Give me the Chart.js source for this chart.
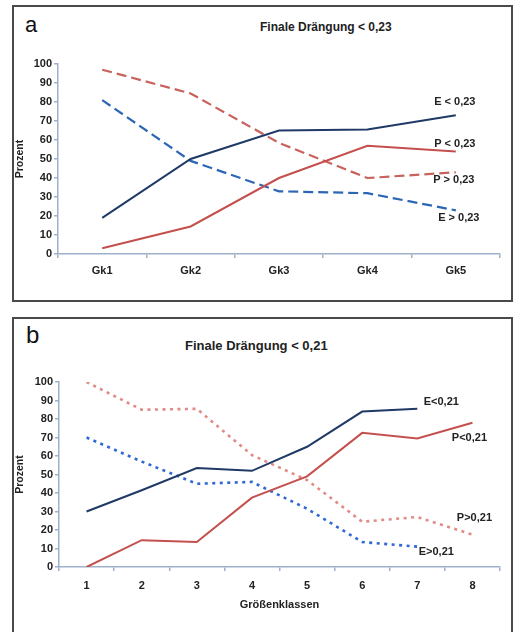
<!DOCTYPE html>
<html>
<head>
<meta charset="utf-8">
<script src="https://cdn.jsdelivr.net/npm/chart.js@4.4.0/dist/chart.umd.min.js"></script>
<style>
  body { margin: 0; background: #fff; width: 516px; height: 632px; position: relative; overflow: hidden;
         font-family: "Liberation Sans", Arial, sans-serif; }
  .panel { position: absolute; left: 12px; width: 497px; border: 2px solid #4a4a4a; background: #fff; }
  #panelA { top: 5px; height: 293px; }
  #panelB { top: 317px; height: 320px; }
  .panel canvas { position: absolute; left: 0; top: 0; }
  .letter { position: absolute; color: #111; line-height: 1; }
  .title { position: absolute; font-weight: bold; color: #222; line-height: 1; white-space: nowrap; }
</style>
</head>
<body>
<div class="panel" id="panelA">
  <div class="letter" style="left:11px; top:7px; font-size:22px;">a</div>
  <div class="title" style="left:246px; top:14px; font-size:12px;">Finale Drängung &lt; 0,23</div>
  <canvas id="chartA" width="497" height="293"></canvas>
</div>
<div class="panel" id="panelB">
  <div class="letter" style="left:12px; top:4px; font-size:24px;">b</div>
  <div class="title" style="left:171px; top:20px; font-size:13px;">Finale Drängung &lt; 0,21</div>
  <canvas id="chartB" width="497" height="313"></canvas>
</div>

<script>
// Panel a: Finale Drängung < 0,23
var catsA = ['Gk1', 'Gk2', 'Gk3', 'Gk4', 'Gk5'];
var eLowA  = [19, 50, 65, 65.5, 73];
var pLowA  = [3, 14.5, 40, 57, 54];
var pHighA = [97, 84.5, 58.5, 40, 43];
var eHighA = [81, 49, 33, 32, 23];

// Panel b: Finale Drängung < 0,21
var catsB = ['1', '2', '3', '4', '5', '6', '7', '8'];
var eLowB  = [30, 41.5, 53.5, 52, 65, 84, 85.5, null];
var pLowB  = [0, 14.5, 13.5, 37.5, 49, 72.5, 69.5, 78];
var pHighB = [100, 85, 85.5, 60.5, 47, 24.5, 27, 17.5];
var eHighB = [70, 57, 45, 46, 31.5, 13.5, 11, null];

var axisColor = '#9db2ca';
var fontFam = '"Liberation Sans", Arial, sans-serif';

// writes the series name next to the end of each line
var lineLabels = {
    id: 'lineLabels',
    afterDatasetsDraw: function (chart) {
        var ctx = chart.ctx;
        ctx.save();
        ctx.font = 'bold 11px ' + fontFam;
        ctx.fillStyle = '#222';
        ctx.textAlign = 'center';
        ctx.textBaseline = 'middle';
        chart.data.datasets.forEach(function (ds, i) {
            var pt = chart.getDatasetMeta(i).data[ds.endIndex];
            ctx.fillText(ds.label, pt.x + ds.labelDx, pt.y + ds.labelDy);
        });
        ctx.restore();
    }
};

function series(label, data, color, dash, width, endIndex, dx, dy) {
    return {
        label: label,
        data: data,
        borderColor: color,
        borderWidth: width,
        borderDash: dash,
        borderCapStyle: 'butt',
        pointRadius: 0,
        tension: 0,
        fill: false,
        endIndex: endIndex,
        labelDx: dx,
        labelDy: dy
    };
}

function setupChart(id, labels, datasets, lay) {
    return new Chart(document.getElementById(id), {
        type: 'line',
        data: { labels: labels, datasets: datasets },
        plugins: [lineLabels],
        options: {
            responsive: false,
            animation: false,
            layout: { padding: { left: 0, top: lay.top, right: lay.right, bottom: lay.bottom } },
            plugins: { legend: { display: false }, tooltip: { enabled: false } },
            scales: {
                x: {
                    offset: true,
                    grid: { offset: true, drawOnChartArea: false, drawTicks: true, tickLength: 4, color: axisColor, lineWidth: 1.5 },
                    border: { color: axisColor, width: 1.5 },
                    ticks: { color: '#222', padding: lay.xPad, font: { family: fontFam, size: 11, weight: 'bold' } },
                    title: { display: !!lay.xTitle, text: lay.xTitle || '', color: '#222', padding: 0,
                             font: { family: fontFam, size: 11, weight: 'bold' } },
                    afterFit: function (s) { s.height = lay.xHeight; }
                },
                y: {
                    min: 0, max: 100,
                    grid: { drawOnChartArea: false, drawTicks: true, tickLength: 4, color: axisColor, lineWidth: 1.5 },
                    border: { color: axisColor, width: 1.5 },
                    ticks: { stepSize: 10, color: '#222', padding: 2, font: { family: fontFam, size: 11, weight: 'bold' } },
                    title: { display: true, text: 'Prozent', color: '#222', padding: 0,
                             font: { family: fontFam, size: 10.5, weight: 'bold' } },
                    afterFit: function (s) { s.width = lay.yWidth; }
                }
            }
        }
    });
}

var navy = '#1f3a66', red = '#c4504e', redDash = '#c9625c', blueDash = '#2c67b6';
var blueDot = '#3069d4', redDot = '#e08c86';

setupChart('chartA', catsA, [
    series('E < 0,23', eLowA, navy, [], 2, 4, -1, -13),
    series('P < 0,23', pLowA, red, [], 2, 4, -1, -7),
    series('P > 0,23', pHighA, redDash, [10, 5], 2.2, 4, -2, 8),
    series('E > 0,23', eHighA, blueDash, [10, 5], 2.2, 4, 3, 8)
], { top: 57, right: 11, bottom: 16, xHeight: 30, yWidth: 44, xPad: 6 });

setupChart('chartB', catsB, [
    series('E<0,21', eLowB, navy, [], 2, 6, 24, -7),
    series('P<0,21', pLowB, red, [], 2, 7, -3, 15),
    series('P>0,21', pHighB, redDot, [3, 4.5], 2.6, 7, 2, -17),
    series('E>0,21', eHighB, blueDot, [3, 4.5], 2.6, 6, 19, 5)
], { top: 63, right: 11, bottom: 20, xHeight: 45, yWidth: 45, xPad: 8, xTitle: 'Größenklassen' });
</script>
</body>
</html>
